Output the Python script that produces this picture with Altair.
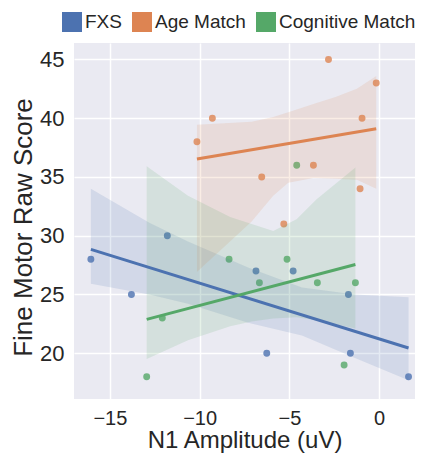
import altair as alt
import pandas as pd

groups = ["FXS", "Age Match", "Cognitive Match"]
colors = ["#4C72B0", "#DD8452", "#55A868"]

# scatter values (N1 amplitude, fine motor raw score)
fxs_x = [-16.06, -13.8, -11.8, -6.86, -4.79, -6.26, -1.71, -1.6, 1.64]
fxs_y = [28, 25, 30, 27, 27, 20, 25, 20, 18]
age_x = [-10.15, -9.29, -2.82, -0.16, -0.95, -3.66, -6.54, -1.06, -5.31]
age_y = [38, 40, 45, 43, 40, 36, 35, 34, 31]
cog_x = [-8.36, -12.08, -12.95, -5.13, -6.67, -3.44, -1.32, -1.95, -4.59]
cog_y = [28, 23, 18, 28, 26, 26, 26, 19, 36]

# confidence bands
fxs_band_x = [-16.06, -12.8, -10.65, -7.3, -4.3, -1.34, 1.64]
fxs_band_lo = [25.9, 25.0, 24.2, 22.6, 21.5, 19.6, 17.7]
fxs_band_hi = [34.0, 31.1, 29.5, 27.3, 25.6, 25.0, 24.75]
age_band_x = [-10.15, -7.1, -5.9, -5.06, -3.66, -2.43, -1.24, -0.16]
age_band_lo = [26.9, 31.2, 33.4, 34.5, 34.9, 34.85, 34.77, 34.0]
age_band_hi = [39.45, 39.7, 40.1, 40.5, 41.2, 41.8, 42.5, 43.6]
cog_band_x = [-12.95, -10.65, -8.3, -7.1, -5.9, -4.6, -3.48, -1.32]
cog_band_lo = [19.5, 21.1, 22.3, 22.7, 22.95, 23.05, 22.8, 22.1]
cog_band_hi = [35.9, 33.4, 31.6, 31.0, 30.4, 31.4, 33.1, 35.8]

pts = pd.concat([
    pd.DataFrame({"x": fxs_x, "y": fxs_y, "group": "FXS"}),
    pd.DataFrame({"x": age_x, "y": age_y, "group": "Age Match"}),
    pd.DataFrame({"x": cog_x, "y": cog_y, "group": "Cognitive Match"}),
], ignore_index=True)

bands = pd.concat([
    pd.DataFrame({"x": fxs_band_x, "lo": fxs_band_lo, "hi": fxs_band_hi, "group": "FXS"}),
    pd.DataFrame({"x": age_band_x, "lo": age_band_lo, "hi": age_band_hi, "group": "Age Match"}),
    pd.DataFrame({"x": cog_band_x, "lo": cog_band_lo, "hi": cog_band_hi, "group": "Cognitive Match"}),
], ignore_index=True)

xscale = alt.Scale(domain=[-17, 2], nice=False, zero=False)
yscale = alt.Scale(domain=[16.1, 46.4], nice=False, zero=False)

xax = alt.Axis(values=[-15, -10, -5, 0], title="N1 Amplitude (uV)", format="d")
yax = alt.Axis(values=[20, 25, 30, 35, 40, 45], title="Fine Motor Raw Score", titleY=184)

cscale = alt.Scale(domain=groups, range=colors)

legend = alt.Legend(
    orient="none", legendX=-12, legendY=-31, direction="horizontal",
    title=None, symbolType="square", symbolSize=400, symbolOpacity=1,
    symbolStrokeWidth=0, labelFontSize=19, labelColor="#262626",
    columnPadding=10, labelOffset=3, padding=0,
)

points = alt.Chart(pts).mark_circle(size=48, opacity=0.8).encode(
    x=alt.X("x:Q", scale=xscale, axis=xax),
    y=alt.Y("y:Q", scale=yscale, axis=yax),
    color=alt.Color("group:N", scale=cscale, sort=groups, legend=legend),
)

band = alt.Chart(bands).mark_area(opacity=0.15).encode(
    x=alt.X("x:Q", scale=xscale, axis=xax),
    y=alt.Y("lo:Q", scale=yscale, axis=yax),
    y2="hi:Q",
    color=alt.Color("group:N", scale=cscale, sort=groups, legend=None),
    detail="group:N",
)

line = alt.Chart(pts).transform_regression(
    "x", "y", groupby=["group"]
).mark_line(strokeWidth=3).encode(
    x=alt.X("x:Q", scale=xscale, axis=xax),
    y=alt.Y("y:Q", scale=yscale, axis=yax),
    color=alt.Color("group:N", scale=cscale, sort=groups, legend=None),
)

chart = alt.layer(points, band, line).properties(
    width=341, height=356,
    autosize=alt.AutoSizeParams(type="none"),
    padding={"left": 66, "top": 35, "right": 2, "bottom": 56},
).configure(font="Liberation Sans").configure_view(
    fill="#EAEAF2", stroke=None
).configure_axis(
    grid=True, gridColor="white", gridWidth=1.5, domain=False, ticks=False,
    labelColor="#262626", titleColor="#262626",
    titleFontWeight="normal",
).configure_axisX(
    labelFontSize=20, labelPadding=9, titlePadding=0, titleFontSize=24
).configure_axisY(
    labelFontSize=22, labelPadding=10, titlePadding=3, titleFontSize=26
)

chart.save("out.html", embed_options={"renderer": "svg", "actions": False})
